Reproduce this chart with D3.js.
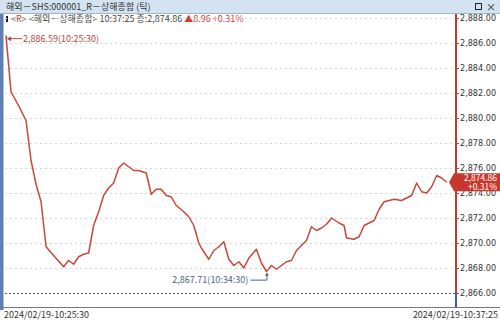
<!DOCTYPE html>
<html>
<head>
<meta charset="utf-8">
<script src="https://cdn.jsdelivr.net/npm/d3@7"></script>
<style>
  body { margin: 0; background: #fff; }
  svg { display: block; font-family: "Noto Sans CJK KR", "DejaVu Sans", sans-serif; }
</style>
</head>
<body>
<script>
"use strict";

// tick number (sequence along the chart) and price at each turn of the line
const tickNo = [0, 2, 5, 8, 10, 12, 14, 16, 19, 23, 25, 27, 29, 31, 33, 35, 37, 39, 41, 43,
  45, 47, 49, 51, 53, 56, 58, 60, 62, 64, 66, 68, 71, 73, 75, 77, 78, 81, 83, 85,
  87, 89, 91, 93, 95, 97, 100, 102, 104, 106, 108, 110, 112, 114, 116, 118, 120, 122, 124, 126,
  128, 130, 133, 135, 136, 139, 141, 143, 145, 147, 149, 151, 153, 155, 158, 160, 162, 164, 166, 168,
  170, 172, 174, 176];
const price = [2886.59, 2882.1, 2881.0, 2879.8, 2876.6, 2874.7, 2873.3, 2869.7, 2869.0, 2868.1,
  2868.6, 2868.3, 2868.9, 2869.1, 2869.2, 2871.4, 2872.5, 2873.8, 2874.4, 2874.8,
  2876.0, 2876.4, 2876.1, 2875.8, 2875.8, 2875.6, 2873.9, 2874.3, 2874.3, 2873.8,
  2873.7, 2873.0, 2872.5, 2872.1, 2871.4, 2870.0, 2869.6, 2868.7, 2869.4, 2869.7,
  2870.1, 2868.7, 2868.2, 2868.5, 2868.0, 2868.8, 2869.5, 2868.4, 2867.71, 2868.2,
  2867.9, 2868.2, 2868.5, 2868.6, 2869.4, 2869.8, 2870.2, 2871.3, 2871.0, 2871.2,
  2871.5, 2872.0, 2871.6, 2871.4, 2870.4, 2870.3, 2870.5, 2871.4, 2871.6, 2871.8,
  2872.7, 2873.3, 2873.4, 2873.5, 2873.4, 2873.6, 2873.8, 2874.8, 2874.1, 2874.0,
  2874.5, 2875.4, 2875.2, 2874.86];

const yTicks = [2888, 2886, 2884, 2882, 2880, 2878, 2876, 2874, 2872, 2870, 2868, 2866];
const startLabel = "2024/02/19-10:25:30";
const endLabel = "2024/02/19-10:37:25";
const title = "해외－SHS:000001_R－상해종합 (틱)";
const highText = "2,886.59(10:25:30)";
const lowText = "2,867.71(10:34:30)";
const lastPct = "+0.31%";

const width = 500;
const height = 321;
const axisX = 456;

const lineColor = "#c9463a";
const fmt = d3.format(",.2f");

let svg = d3.select("body").append("svg")
    .attr("width", width)
    .attr("height", height);

let x = d3.scaleLinear()
    .domain([0, d3.max(tickNo)])
    .range([6, 446.7]);

let y = d3.scaleLinear()
    .domain([2866, 2888])
    .range([293, 18]);

// title bar
svg.append("rect")
    .attr("x", 0).attr("y", 0)
    .attr("width", width).attr("height", 13)
    .attr("fill", "#d3e3f1");
svg.append("line")
    .attr("x1", 0).attr("x2", width)
    .attr("y1", 13.5).attr("y2", 13.5)
    .attr("stroke", "#9fb6cc");
svg.append("text")
    .attr("x", 6).attr("y", 10)
    .attr("font-size", 9)
    .attr("fill", "#333")
    .text(title);
svg.append("rect")
    .attr("x", 475.5).attr("y", 3.5)
    .attr("width", 6).attr("height", 6)
    .attr("fill", "none").attr("stroke", "#222");
svg.append("text")
    .attr("x", 486).attr("y", 10.5)
    .attr("font-size", 10)
    .attr("fill", "#222")
    .text("×");

// left blue strip
svg.append("rect")
    .attr("x", 0).attr("y", 14)
    .attr("width", 3.5).attr("height", 296)
    .attr("fill", "#5d7fb4");

// header line
svg.append("rect")
    .attr("x", 6).attr("y", 16)
    .attr("width", 2).attr("height", 6)
    .attr("fill", "#222");
let head = svg.append("text")
    .attr("x", 11).attr("y", 22)
    .attr("font-size", 9);
head.append("tspan").attr("fill", "#b5483a").text("<R> ");
head.append("tspan").attr("fill", "#444")
    .text("<해외－상해종합> 10:37:25 종:" + fmt(price[price.length - 1]) + " ");
head.append("tspan").attr("fill", "#d43a2f")
    .text("▲" + d3.format(".2f")(8.96) + " " + lastPct);

// gridlines
svg.append("g")
    .selectAll("line")
    .data(yTicks)
    .enter()
    .append("line")
    .attr("x1", 5).attr("x2", axisX)
    .attr("y1", d => Math.round(y(d)) + 0.5)
    .attr("y2", d => Math.round(y(d)) + 0.5)
    .attr("stroke", d => d === 2866 ? "#555" : "#d6d6d6")
    .attr("stroke-dasharray", d => d === 2866 ? "2,2" : "2,3");

// right axis
let yAxis = d3.axisRight(y)
    .tickValues(yTicks)
    .tickSize(3)
    .tickPadding(1)
    .tickFormat(fmt);

let gy = svg.append("g")
    .attr("transform", "translate(" + axisX + ",0)")
    .call(yAxis);
gy.select(".domain").remove();
gy.selectAll(".tick line").attr("stroke", "#666");
gy.selectAll(".tick text")
    .attr("font-size", 9)
    .attr("fill", "#333")
    .attr("font-family", "'DejaVu Sans Condensed', 'Liberation Sans Narrow', sans-serif");

svg.append("line")
    .attr("x1", axisX).attr("x2", axisX)
    .attr("y1", 14).attr("y2", y(2866))
    .attr("stroke", "#c8372d").attr("stroke-width", 2);
svg.append("line")
    .attr("x1", axisX).attr("x2", axisX)
    .attr("y1", y(2866)).attr("y2", 307)
    .attr("stroke", "#3f5f9a").attr("stroke-width", 2);

// bottom axis line and labels
svg.append("line")
    .attr("x1", 0).attr("x2", width)
    .attr("y1", 307.5).attr("y2", 307.5)
    .attr("stroke", "#777");
svg.append("text")
    .attr("x", 4).attr("y", 318)
    .attr("font-size", 9).attr("fill", "#333")
    .text(startLabel);
svg.append("text")
    .attr("x", 498).attr("y", 318)
    .attr("text-anchor", "end")
    .attr("font-size", 9).attr("fill", "#333")
    .text(endLabel);

// price line
let pts = tickNo.map((t, i) => [t, price[i]]);
let line = d3.line()
    .x(d => x(d[0]))
    .y(d => y(d[1]));

svg.append("path")
    .datum(pts)
    .attr("d", line)
    .attr("fill", "none")
    .attr("stroke", lineColor)
    .attr("stroke-width", 1.5)
    .attr("stroke-linejoin", "round");

// high annotation
let hi = d3.maxIndex(price);
let hx = x(tickNo[hi]), hy = y(price[hi]);
svg.append("line")
    .attr("x1", hx + 2).attr("x2", hx + 16)
    .attr("y1", hy + 3).attr("y2", hy + 3)
    .attr("stroke", "#b5483a");
svg.append("path")
    .attr("d", "M" + (hx + 1) + "," + (hy + 3) + "l4,-2.5v5z")
    .attr("fill", "#b5483a");
svg.append("text")
    .attr("x", hx + 17).attr("y", hy + 6.5)
    .attr("font-size", 9).attr("fill", "#b5483a")
    .text(highText);

// low annotation
let lo = d3.minIndex(price);
let lx = x(tickNo[lo]), ly = y(price[lo]);
svg.append("path")
    .attr("d", "M" + (lx - 16) + "," + (ly + 8.5) + "H" + (lx + 0.5) + "V" + (ly + 2))
    .attr("fill", "none")
    .attr("stroke", "#4d6580");
svg.append("path")
    .attr("d", "M" + (lx + 0.5) + "," + (ly + 1) + "l-2,3h4z")
    .attr("fill", "#4d6580");
svg.append("text")
    .attr("x", lx - 18).attr("y", ly + 11.5)
    .attr("text-anchor", "end")
    .attr("font-size", 9).attr("fill", "#4d6580")
    .text(lowText);

// last price tag (covers the axis label underneath, as in the terminal)
let lastY = y(price[price.length - 1]);
svg.append("path")
    .attr("d", "M449," + lastY + "L454," + (lastY - 9) + "H500V" + (lastY + 9) + "H454Z")
    .attr("fill", "#c8372d");
svg.append("text")
    .attr("x", 497).attr("y", lastY - 1)
    .attr("text-anchor", "end")
    .attr("font-size", 8.5).attr("fill", "#fff")
    .text(fmt(price[price.length - 1]));
svg.append("text")
    .attr("x", 497).attr("y", lastY + 7.5)
    .attr("text-anchor", "end")
    .attr("font-size", 8.5).attr("fill", "#fff")
    .text(lastPct);
</script>
</body>
</html>
